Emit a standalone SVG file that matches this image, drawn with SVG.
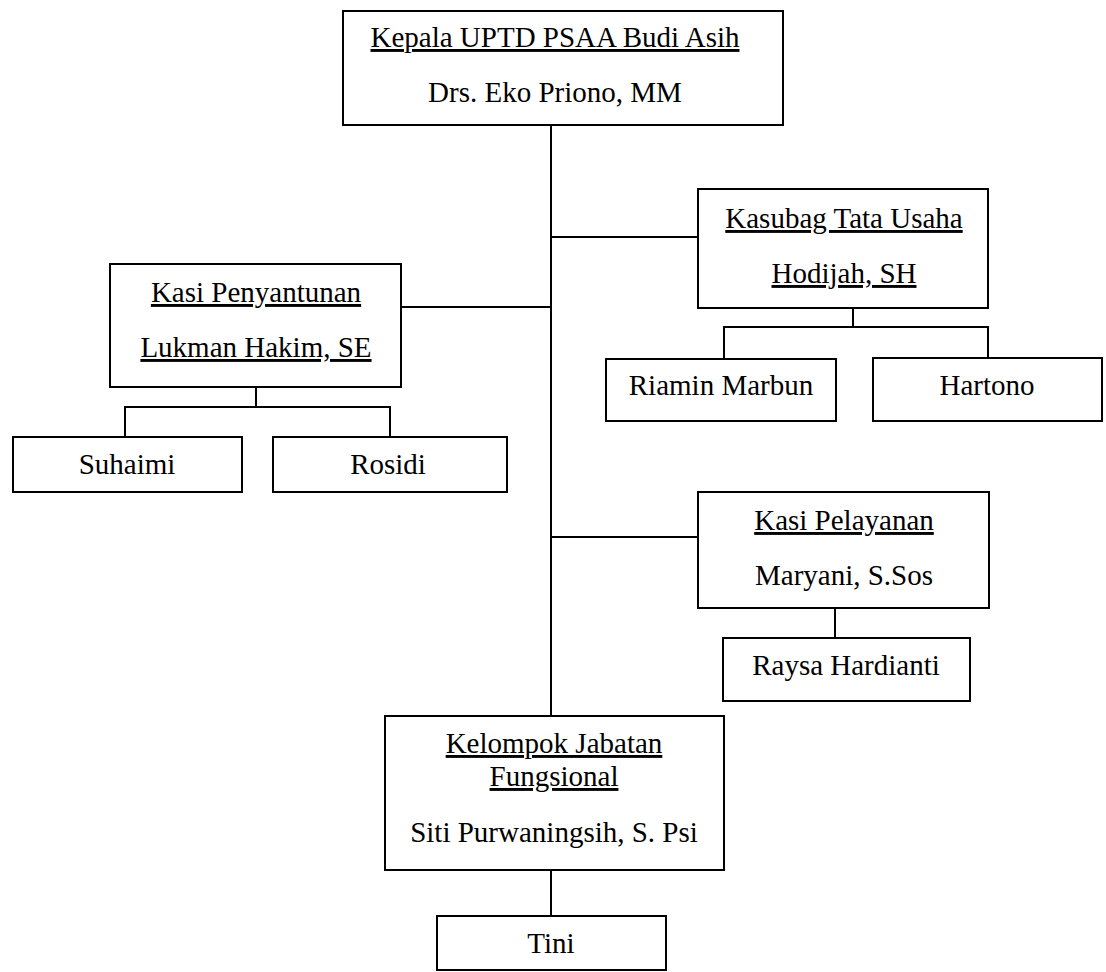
<svg xmlns="http://www.w3.org/2000/svg" width="1106" height="972" viewBox="0 0 1106 972">
<style>
.box{fill:#fff;stroke:#000;stroke-width:2}
.t{font-family:"Liberation Serif","Times New Roman",serif;font-size:29px;fill:#000;text-anchor:middle}
.u{text-decoration:underline}
#connectors line{stroke:#000;stroke-width:2}
</style>
<rect width="1106" height="972" fill="#fff"/>
<g id="connectors">
<line x1="551" y1="125" x2="551" y2="716"/>
<line x1="551" y1="237" x2="698" y2="237"/>
<line x1="401" y1="307" x2="551" y2="307"/>
<line x1="551" y1="537" x2="698" y2="537"/>
<line x1="853" y1="308" x2="853" y2="327"/>
<line x1="723" y1="327" x2="989" y2="327"/>
<line x1="724" y1="327" x2="724" y2="359"/>
<line x1="988" y1="327" x2="988" y2="358"/>
<line x1="256" y1="387" x2="256" y2="407"/>
<line x1="124" y1="407" x2="391" y2="407"/>
<line x1="125" y1="407" x2="125" y2="437"/>
<line x1="390" y1="407" x2="390" y2="437"/>
<line x1="835" y1="608" x2="835" y2="638"/>
<line x1="551" y1="870" x2="551" y2="916"/>
</g>
<g id="kepala">
<rect class="box" x="343" y="11" width="440" height="114"/>
<text class="t u" x="555" y="47">Kepala UPTD PSAA Budi Asih</text>
<text class="t" x="555" y="102">Drs. Eko Priono, MM</text>
</g>
<g id="kasubag">
<rect class="box" x="698" y="189" width="290" height="119"/>
<text class="t u" x="844" y="228">Kasubag Tata Usaha</text>
<text class="t u" x="844" y="283">Hodijah, SH</text>
</g>
<g id="riamin">
<rect class="box" x="606" y="359" width="230" height="62"/>
<text class="t" x="721" y="395">Riamin Marbun</text>
</g>
<g id="hartono">
<rect class="box" x="873" y="358" width="229" height="63"/>
<text class="t" x="987" y="395">Hartono</text>
</g>
<g id="penyantunan">
<rect class="box" x="110" y="264" width="291" height="123"/>
<text class="t u" x="256" y="302">Kasi Penyantunan</text>
<text class="t u" x="256" y="357">Lukman Hakim, SE</text>
</g>
<g id="suhaimi">
<rect class="box" x="13" y="437" width="229" height="55"/>
<text class="t" x="127" y="474">Suhaimi</text>
</g>
<g id="rosidi">
<rect class="box" x="273" y="437" width="234" height="55"/>
<text class="t" x="388" y="474">Rosidi</text>
</g>
<g id="pelayanan">
<rect class="box" x="698" y="492" width="291" height="116"/>
<text class="t u" x="844" y="530">Kasi Pelayanan</text>
<text class="t" x="844" y="585">Maryani, S.Sos</text>
</g>
<g id="raysa">
<rect class="box" x="723" y="638" width="247" height="63"/>
<text class="t" x="846" y="675">Raysa Hardianti</text>
</g>
<g id="kelompok">
<rect class="box" x="385" y="716" width="339" height="154"/>
<text class="t u" x="554" y="753">Kelompok Jabatan</text>
<text class="t u" x="554" y="786">Fungsional</text>
<text class="t" x="554" y="842">Siti Purwaningsih, S. Psi</text>
</g>
<g id="tini">
<rect class="box" x="437" y="916" width="229" height="54"/>
<text class="t" x="551" y="953">Tini</text>
</g>
</svg>
